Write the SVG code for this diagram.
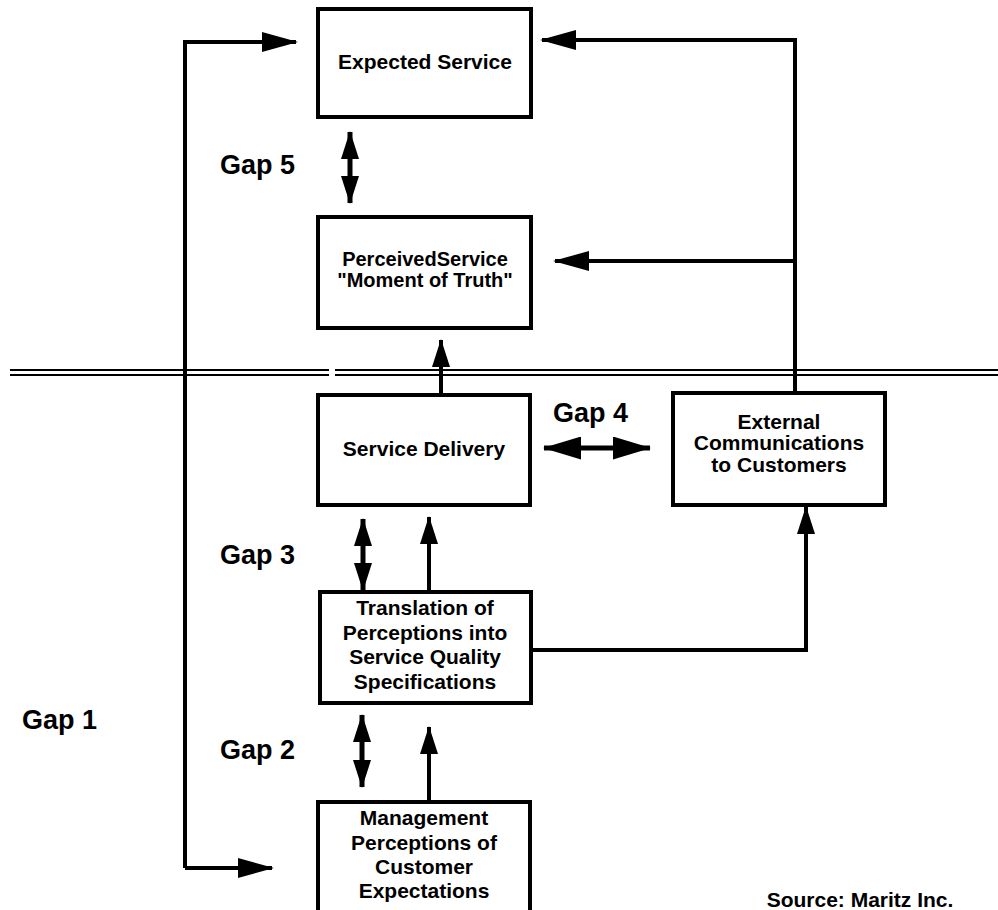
<svg xmlns="http://www.w3.org/2000/svg" width="998" height="910" viewBox="0 0 998 910">
<style>
.box{fill:#fff;stroke:#000;stroke-width:4}
.t{font-family:"Liberation Sans",Arial,sans-serif;font-weight:bold;font-size:21px;fill:#000;text-anchor:middle}
.gap{font-family:"Liberation Sans",Arial,sans-serif;font-weight:bold;font-size:27px;fill:#000}
.c{fill:none;stroke:#000;stroke-width:4}
.g{fill:none;stroke:#000;stroke-width:5}
.hl{stroke:#000;stroke-width:2;fill:none}
</style>
<defs>
<marker id="big" markerUnits="userSpaceOnUse" markerWidth="36" markerHeight="20" refX="34" refY="10" orient="auto-start-reverse"><path d="M0,0 L36,10 L0,20 z" fill="#000"/></marker>
<marker id="sm" markerUnits="userSpaceOnUse" markerWidth="28" markerHeight="18" refX="27" refY="9" orient="auto-start-reverse"><path d="M0,0 L28,9 L0,18 z" fill="#000"/></marker>
<marker id="mid" markerUnits="userSpaceOnUse" markerWidth="38" markerHeight="23" refX="37" refY="11.5" orient="auto-start-reverse"><path d="M0,0 L38,11.5 L0,23 z" fill="#000"/></marker>
</defs>
<g id="divider">
<line class="hl" x1="10" y1="370" x2="329" y2="370"/>
<line class="hl" x1="10" y1="375" x2="329" y2="375"/>
<line class="hl" x1="335" y1="370" x2="998" y2="370"/>
<line class="hl" x1="335" y1="375" x2="998" y2="375"/>
</g>
<g id="connectors">
<polyline class="c" points="185,868 185,42 296,42" marker-end="url(#big)"/>
<line class="c" x1="185" y1="868" x2="272" y2="868" marker-end="url(#big)"/>
<polyline class="c" points="795,395 795,40 542,40" marker-end="url(#big)"/>
<line class="c" x1="795" y1="261" x2="555" y2="261" marker-end="url(#big)"/>
<line class="c" x1="441" y1="395" x2="441" y2="340" marker-end="url(#sm)"/>
<line class="g" x1="350" y1="132" x2="350" y2="203" marker-start="url(#sm)" marker-end="url(#sm)"/>
<line class="g" x1="544" y1="448" x2="650" y2="448" marker-start="url(#mid)" marker-end="url(#mid)"/>
<line class="g" x1="363" y1="519" x2="363" y2="590" marker-start="url(#sm)" marker-end="url(#sm)"/>
<line class="c" x1="429" y1="592" x2="429" y2="517" marker-end="url(#sm)"/>
<polyline class="c" points="531,650 806,650 806,507" marker-end="url(#sm)"/>
<line class="g" x1="362" y1="715" x2="362" y2="787" marker-start="url(#sm)" marker-end="url(#sm)"/>
<line class="c" x1="429" y1="802" x2="429" y2="727" marker-end="url(#sm)"/>
</g>
<g id="expected">
<rect class="box" x="318" y="9" width="213" height="108"/>
<text class="t" x="425" y="69">Expected Service</text>
</g>
<g id="perceived">
<rect class="box" x="318" y="217" width="213" height="111"/>
<text class="t" x="425" y="266" style="font-size:20px">PerceivedService</text>
<text class="t" x="425" y="287" style="font-size:20px">"Moment of Truth"</text>
</g>
<g id="delivery">
<rect class="box" x="318" y="395" width="212" height="110"/>
<text class="t" x="424" y="456">Service Delivery</text>
</g>
<g id="external">
<rect class="box" x="673" y="393" width="212" height="112"/>
<text class="t" x="779" y="429">External</text>
<text class="t" x="779" y="450">Communications</text>
<text class="t" x="779" y="472">to Customers</text>
</g>
<g id="translation">
<rect class="box" x="320" y="592" width="211" height="111"/>
<text class="t" x="425" y="615">Translation of</text>
<text class="t" x="425" y="640">Perceptions into</text>
<text class="t" x="425" y="664">Service Quality</text>
<text class="t" x="425" y="689">Specifications</text>
</g>
<g id="management">
<rect class="box" x="318" y="802" width="212" height="115"/>
<text class="t" x="424" y="825">Management</text>
<text class="t" x="424" y="850">Perceptions of</text>
<text class="t" x="424" y="874">Customer</text>
<text class="t" x="424" y="898">Expectations</text>
</g>
<g id="labels">
<text class="gap" x="220" y="174">Gap 5</text>
<text class="gap" x="553" y="422">Gap 4</text>
<text class="gap" x="220" y="564">Gap 3</text>
<text class="gap" x="220" y="759">Gap 2</text>
<text class="gap" x="22" y="729">Gap 1</text>
<text class="t" x="860" y="907">Source: Maritz Inc.</text>
</g>
</svg>
